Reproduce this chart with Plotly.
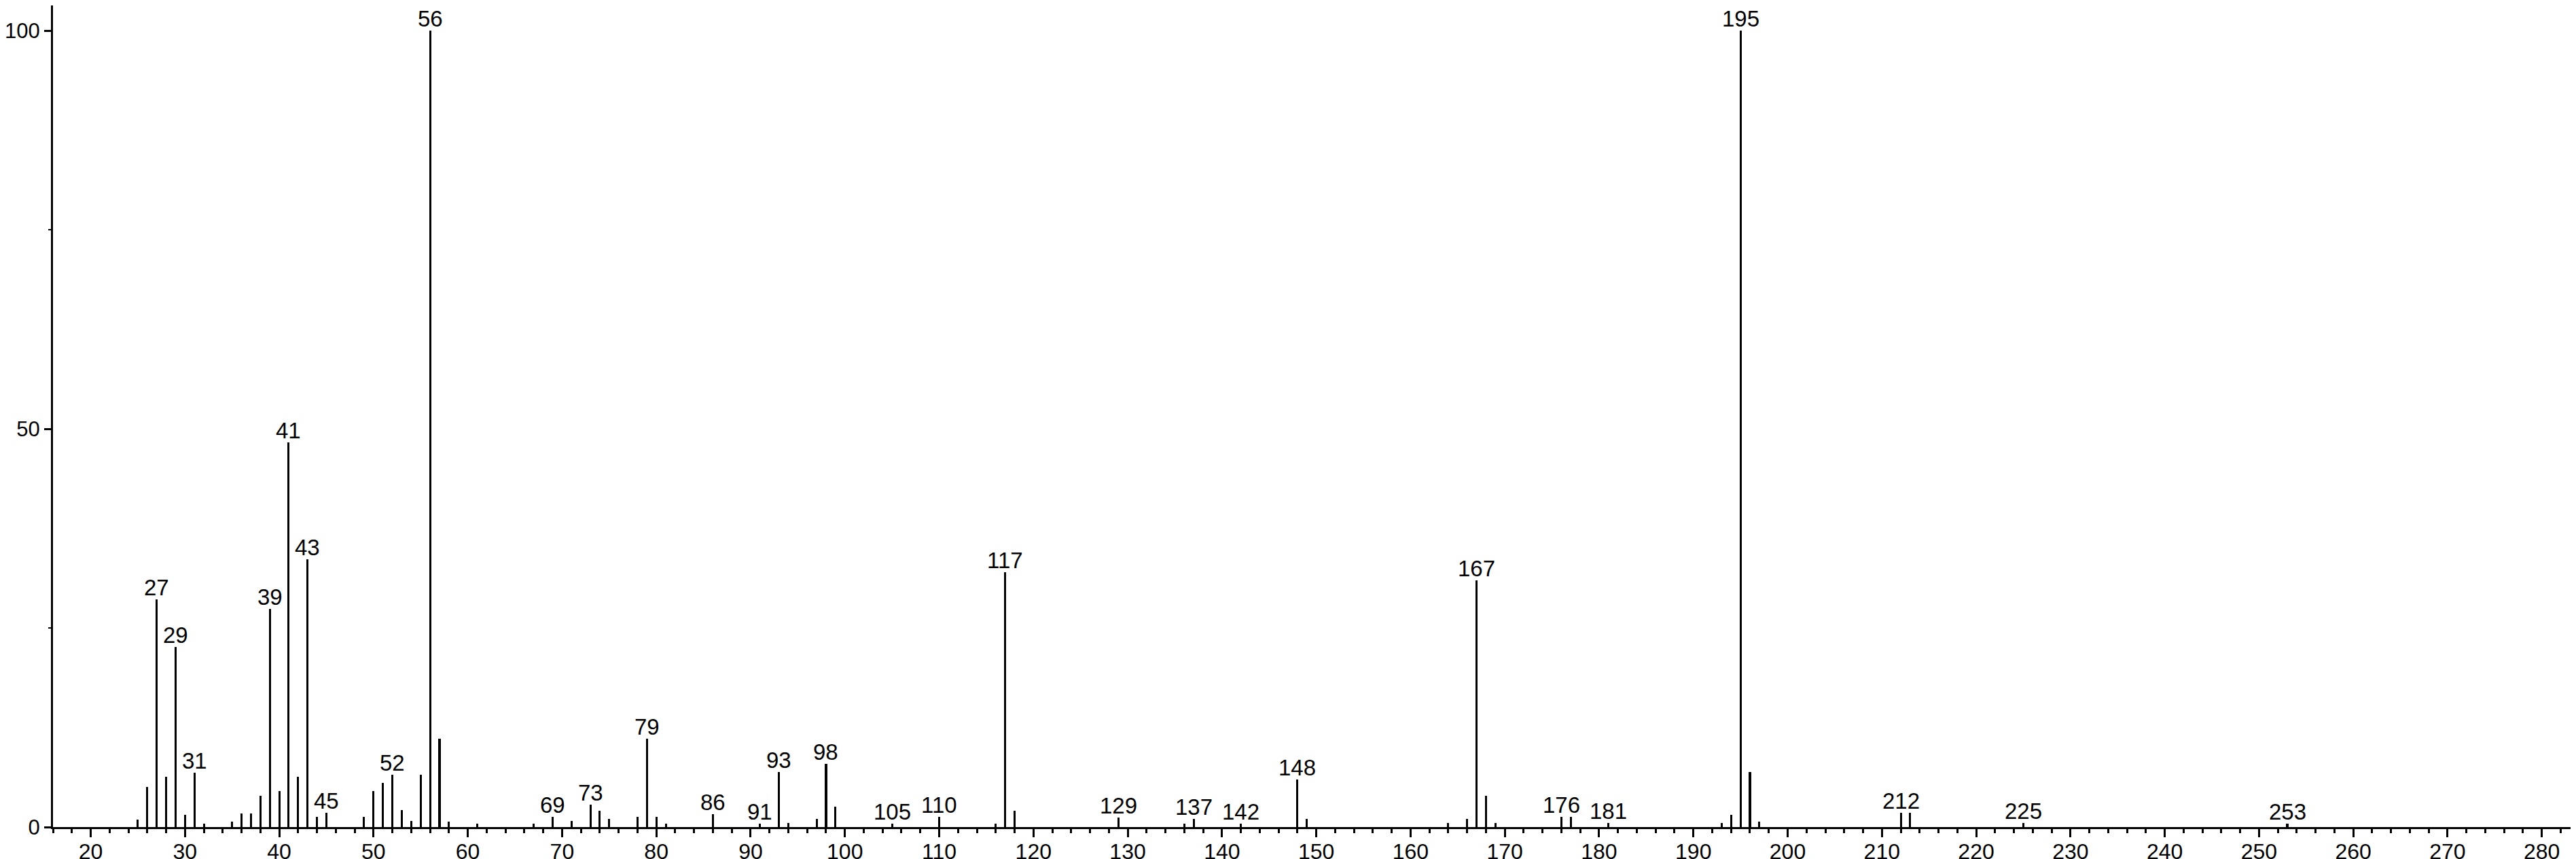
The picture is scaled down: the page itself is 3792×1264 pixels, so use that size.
import plotly.graph_objects as go

# m/z values and relative intensities
mz = [25, 26, 27, 28, 29, 30, 31, 32, 35, 36, 37, 38, 39, 40, 41, 42, 43, 44, 45,
      49, 50, 51, 52, 53, 54, 55, 56, 57, 58, 61, 67, 69, 71, 73, 74, 75, 78, 79,
      80, 81, 86, 91, 93, 94, 97, 98, 99, 105, 110, 116, 117, 118, 129, 136, 137,
      142, 148, 149, 164, 166, 167, 168, 169, 176, 177, 181, 193, 194, 195, 196,
      197, 212, 213, 225, 253]
intensity = [0.95, 5.0, 28.6, 6.35, 22.6, 1.5, 6.8, 0.4, 0.7, 1.75, 1.75, 3.9, 27.4,
             4.5, 48.3, 6.35, 33.6, 1.3, 1.8,
             1.3, 4.5, 5.55, 6.6, 2.1, 0.75, 6.6, 100.0, 11.1, 0.7, 0.45, 0.45, 1.3,
             0.75, 2.85, 2.05, 1.0, 1.3, 11.1,
             1.3, 0.45, 1.6, 0.45, 6.9, 0.5, 1.0, 7.9, 2.6, 0.45, 1.3, 0.45, 32.0,
             2.05, 1.2, 0.45, 1.0,
             0.45, 6.0, 1.0, 0.5, 1.0, 31.0, 3.9, 0.5, 1.3, 1.3, 0.5, 0.5, 1.5, 100.0,
             6.9, 0.7, 1.8, 1.8, 0.5, 0.4]

labeled_mz = [27, 29, 31, 39, 41, 43, 45, 52, 56, 69, 73, 79, 86, 91, 93, 98, 105,
              110, 117, 129, 137, 142, 148, 167, 176, 181, 195, 212, 225, 253]

x_ticks = list(range(20, 281, 10))
y_ticks = [0, 50, 100]

FONT = "Liberation Sans, Arial, Helvetica, sans-serif"

fig = go.Figure()
fig.add_trace(go.Bar(
    x=mz, y=intensity, width=0.22,
    marker=dict(color="black", line=dict(width=0)),
    hoverinfo="x+y", showlegend=False,
))

lookup = dict(zip(mz, intensity))
for m in labeled_mz:
    fig.add_annotation(
        x=m, y=lookup[m], text=str(m), showarrow=False,
        xanchor="center", yanchor="bottom", yshift=-3,
        font=dict(family=FONT, size=33, color="black"),
    )

fig.update_layout(
    template="none",
    width=3792, height=1264,
    margin=dict(l=70, r=0, t=0, b=55, pad=0),
    paper_bgcolor="white", plot_bgcolor="white",
    bargap=0,
    font=dict(family=FONT, size=33, color="black"),
    xaxis=dict(
        range=[16.0, 284.2],
        automargin=False,
        tickmode="array", tickvals=x_ticks, ticktext=[str(v) for v in x_ticks],
        ticks="outside", ticklen=12, tickwidth=3, tickcolor="black",
        ticklabelstandoff=-6,
        minor=dict(dtick=2, tick0=0, ticks="outside", ticklen=6, tickwidth=3,
                   tickcolor="black"),
        showline=True, linecolor="black", linewidth=3,
        showgrid=False, zeroline=False,
        tickfont=dict(family=FONT, size=32, color="black"),
    ),
    yaxis=dict(
        range=[0, 103.2],
        automargin=False,
        tickmode="array", tickvals=y_ticks, ticktext=[str(v) for v in y_ticks],
        ticks="outside", ticklen=10, tickwidth=3, tickcolor="black",
        minor=dict(dtick=25, tick0=0, ticks="outside", ticklen=4, tickwidth=2,
                   tickcolor="black"),
        showline=True, linecolor="black", linewidth=3,
        showgrid=False, zeroline=False,
        tickfont=dict(family=FONT, size=31, color="black"),
    ),
)

fig.write_html("out.html")
